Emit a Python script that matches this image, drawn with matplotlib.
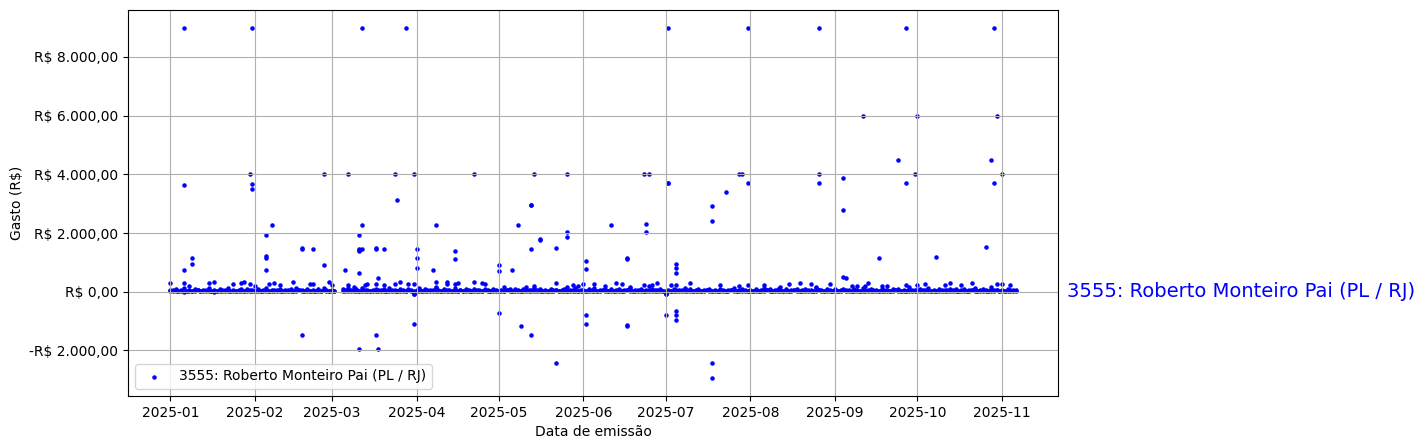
import numpy as np
import pandas as pd
import matplotlib
matplotlib.use("Agg")
import matplotlib.pyplot as plt
import matplotlib.ticker as mticker
import matplotlib.transforms as mtransforms

nan = np.nan
label = "3555: Roberto Monteiro Pai (PL / RJ)"

# Baseline daily expenses (one value per day of the month)
base_a = {
    1: [60, 30, 85, 15, 50, 120, 40, 70, 25, 95, 55, 10, 75, 45, 130, 35, 65, 20, 90, 50, 30, 110, 40, 70, 15, 60, 85, 25, 100, 45, 70],
    2: [40, 90, 25, 60, 120, 35, 75, 15, 55, 100, 30, 65, 45, 85, 20, 140, 50, 70, 30, 95, 40, 60, 15, 80, 35, 110, 55, 25],
    3: [70, 30, nan, nan, 85, 45, 110, 25, 60, 90, 35, 130, 50, 75, 20, 65, 100, 40, 55, 80, 30, 120, 45, 70, 25, 95, 60, 35, 85, 50, 20],
    4: [55, 80, 30, 100, 45, 70, 20, 125, 60, 35, 90, 50, 75, 25, 110, 40, 65, 15, 85, 55, 30, 100, 45, 70, 20, 95, 60, 35, 80, 50],
    5: [40, 75, 25, 60, 105, 35, 80, 50, 20, 90, 45, 70, 30, 115, 55, 85, 25, 65, 40, 100, 50, 75, 20, 60, 90, 35, 70, 45, 110, 30, 55],
    6: [65, 30, 90, 45, 120, 25, 70, 55, 100, 35, 80, 20, 60, 95, 40, 75, 50, 110, 30, 65, 45, 85, 25, 70, 55, 100, 35, 60, 90, 40],
    7: [-40, 75, 30, 95, 50, 65, 20, 110, 45, 80, 35, 60, 90, 25, 70, 50, 100, 40, 65, 15, 85, 55, 30, 75, 45, 120, 35, 60, 90, 50, 25],
    8: [70, 40, 95, 25, 60, 115, 45, 80, 30, 65, 100, 50, 20, 85, 40, 70, 55, 105, 30, 60, 90, 45, 75, 25, 110, 50, 65, 35, 95, 55, 40],
    9: [80, 30, 65, 100, 45, 70, 25, 90, 55, 40, 115, 60, 35, 85, 50, 75, 20, 95, 45, 65, 30, 105, 55, 80, 40, 70, 25, 90, 60, 45],
    10: [50, 85, 30, 70, 110, 40, 65, 20, 95, 55, 75, 35, 100, 45, 80, 25, 60, 90, 40, 70, 50, 115, 30, 65, 85, 45, 20, 95, 60, 75, 35],
    11: [60, 30, 85, 45, 70, 40],
}
base_b = {
    1: [20, 45, 10, 35, 25, 5, 40, 15, 30, 20, 45, 25, 10, 35, 20, 40, 5, 30, 15, 25, 45, 20, 35, 10, 30, 40, 15, 25, 20, 35, 10],
    2: [30, 15, 40, 20, 10, 35, 25, 45, 15, 30, 20, 40, 10, 25, 35, 15, 45, 20, 30, 10, 40, 25, 35, 15, 20, 45, 30, 10],
    3: [15, 40, nan, nan, 20, 30, 10, 45, 25, 15, 35, 20, 40, 10, 30, 25, 15, 45, 20, 35, 10, 30, 25, 40, 15, 20, 35, 10, 45, 25, -30],
    4: [30, 10, 40, 20, 35, 15, 45, 25, 10, 30, 20, 40, 15, 35, 25, 10, 45, 20, 30, 15, 40, 25, 10, 35, 20, 45, 30, 15, 25, 40],
    5: [20, 35, 10, 45, 25, 15, 40, 30, 10, 20, 35, 25, 45, 15, 30, 10, 40, 20, 35, 25, 15, 45, 30, 10, 20, 40, 25, 35, 15, 30, 10],
    6: [35, 15, 25, 40, 10, 30, 20, 45, 15, 35, 25, 10, 40, 20, 30, 15, 45, 25, 10, 35, 20, 40, 30, 15, 25, 10, 45, 20, 35, 25],
    7: [15, 40, 20, 10, 35, 25, 45, 15, 30, 20, 40, 10, 25, 35, 15, 45, 20, 30, 10, 40, 25, 35, 15, 20, 45, 30, 10, 25, 40, 20, 35],
    8: [25, 10, 40, 20, 35, 15, 45, 25, 10, 30, 20, 40, 15, 35, 25, 10, 45, 20, 30, 15, 40, 25, 10, 35, 20, 45, 30, 15, 25, 40, 10],
    9: [10, 35, 20, 45, 15, 30, 25, 10, 40, 20, 35, 15, 45, 25, 10, 30, 20, 40, 15, 35, 25, 10, 45, 20, 30, 15, 40, 25, 10, 35],
    10: [30, 15, 45, 20, 10, 35, 25, 40, 15, 30, 20, 45, 10, 25, 35, 15, 40, 20, 30, 10, 45, 25, 35, 15, 20, 40, 30, 10, 25, 45, 15],
    11: [20, 40, 15, 30, 25, 70],
}

# Points a little above the dense band
band_dates = ["2025-01-01", "2025-01-06", "2025-01-08", "2025-01-15", "2025-01-17", "2025-01-24",
              "2025-01-27", "2025-01-28", "2025-01-30", "2025-02-01", "2025-02-06", "2025-02-08",
              "2025-02-10", "2025-02-15", "2025-02-21", "2025-02-22", "2025-02-28", "2025-03-01",
              "2025-03-07", "2025-03-09", "2025-03-13", "2025-03-14", "2025-03-17", "2025-03-20",
              "2025-03-24", "2025-03-26", "2025-03-29", "2025-03-31", "2025-04-02", "2025-04-08",
              "2025-04-12", "2025-04-12", "2025-04-15", "2025-04-16", "2025-04-22", "2025-04-25",
              "2025-04-26", "2025-05-03", "2025-05-11", "2025-05-14", "2025-05-22", "2025-05-26",
              "2025-05-28", "2025-05-30", "2025-06-01", "2025-06-05", "2025-06-09", "2025-06-13",
              "2025-06-15", "2025-06-18", "2025-06-23", "2025-06-25", "2025-06-26", "2025-06-28",
              "2025-07-03", "2025-07-05", "2025-07-10", "2025-07-21", "2025-07-28", "2025-07-31",
              "2025-08-06", "2025-08-12", "2025-08-15", "2025-08-19", "2025-08-23", "2025-08-25",
              "2025-08-30", "2025-09-07", "2025-09-09", "2025-09-12", "2025-09-13", "2025-09-18",
              "2025-09-20", "2025-09-27", "2025-09-28", "2025-10-01", "2025-10-04", "2025-10-11",
              "2025-10-13", "2025-10-17", "2025-10-21", "2025-10-28", "2025-10-30", "2025-11-01",
              "2025-11-04", "2025-03-31", "2025-07-01", "2025-04-08"]
band_values = [300, 300, 200, 300, 330, 250,
               300, 330, 250, 180, 250, 300,
               230, 330, 250, 250, 330, 230,
               230, 170, 230, 250, 250, 230,
               250, 330, 250, 250, 110, 150,
               250, 330, 250, 300, 330, 300,
               250, 150, 170, 200, 300, 150,
               230, 200, 250, 250, 200, 300,
               250, 170, 230, 200, 240, 310,
               230, 230, 300, 230, 200, 230,
               230, 170, 250, 300, 250, 150,
               250, 200, 200, 200, 300, 200,
               200, 240, 150, 240, 250, 230,
               300, 230, 300, 150, 250, 250,
               230, -80, -80, 330]

# Large expenses / refunds
big_dates = ["2025-01-06", "2025-01-31", "2025-03-12", "2025-03-28", "2025-07-02", "2025-07-31",
             "2025-08-26", "2025-09-27", "2025-10-29",
             "2025-09-11", "2025-10-01", "2025-10-30",
             "2025-01-30", "2025-02-26", "2025-03-07", "2025-03-24", "2025-03-31", "2025-04-22",
             "2025-05-14", "2025-05-26", "2025-06-23", "2025-06-25", "2025-07-28", "2025-07-29",
             "2025-08-26", "2025-09-30", "2025-11-01",
             "2025-09-24", "2025-10-28", "2025-09-04",
             "2025-01-06", "2025-01-31", "2025-01-31", "2025-07-02", "2025-07-02", "2025-07-31",
             "2025-08-26", "2025-09-27", "2025-10-29", "2025-07-23", "2025-03-25",
             "2025-07-18", "2025-05-13", "2025-05-13", "2025-09-04", "2025-07-18",
             "2025-02-07", "2025-03-12", "2025-04-08", "2025-05-08", "2025-06-11", "2025-06-24",
             "2025-06-24", "2025-05-26", "2025-05-26", "2025-02-05", "2025-03-11", "2025-05-16",
             "2025-05-16", "2025-10-26",
             "2025-02-18", "2025-02-18", "2025-02-22", "2025-03-11", "2025-03-11", "2025-03-11",
             "2025-03-12", "2025-03-17", "2025-03-17", "2025-03-20", "2025-04-01", "2025-05-13",
             "2025-05-22", "2025-04-15",
             "2025-02-05", "2025-02-05", "2025-01-09", "2025-01-09", "2025-04-01", "2025-04-15",
             "2025-06-17", "2025-06-17", "2025-09-17", "2025-10-08", "2025-06-02",
             "2025-07-05", "2025-07-05", "2025-07-05", "2025-02-26", "2025-05-01", "2025-05-01",
             "2025-04-01", "2025-06-02", "2025-01-06", "2025-02-05", "2025-03-06", "2025-04-07",
             "2025-05-06", "2025-03-11", "2025-09-04", "2025-09-05", "2025-03-18",
             "2025-03-31", "2025-07-01", "2025-05-01", "2025-06-02", "2025-06-02", "2025-07-01",
             "2025-07-05", "2025-07-05", "2025-07-05", "2025-03-31", "2025-05-09", "2025-06-17",
             "2025-06-17", "2025-02-18", "2025-03-17", "2025-05-13", "2025-03-11", "2025-03-18",
             "2025-05-22", "2025-07-18", "2025-07-18"]
big_values = [9000, 9000, 9000, 9000, 9000, 9000,
              9000, 9000, 9000,
              6000, 6000, 6000,
              4000, 4000, 4000, 4000, 4000, 4000,
              4000, 4000, 4000, 4000, 4000, 4000,
              4000, 4000, 4000,
              4500, 4500, 3860,
              3650, 3660, 3515, 3690, 3710, 3690,
              3690, 3690, 3690, 3410, 3140,
              2935, 2970, 2950, 2800, 2420,
              2280, 2280, 2280, 2280, 2280, 2320,
              2040, 2030, 1860, 1940, 1940, 1770,
              1790, 1530,
              1470, 1490, 1470, 1470, 1430, 1400,
              1470, 1470, 1490, 1470, 1470, 1460,
              1500, 1390,
              1200, 1140, 1165, 950, 1165, 1120,
              1150, 1130, 1155, 1190, 1040,
              960, 810, 640, 920, 920, 710,
              820, 775, 750, 750, 750, 750,
              740, 640, 515, 480, 470,
              -90, -90, -730, -800, -1085, -800,
              -650, -800, -970, -1100, -1175, -1150,
              -1160, -1475, -1475, -1485, -1950, -1950,
              -2440, -2440, -2955]

# ---- assemble ----
dates = []
values = []
for month in range(1, 12):
    for base in (base_a, base_b):
        for i, v in enumerate(base[month]):
            dates.append(pd.Timestamp(2025, month, i + 1))
            values.append(v)
dates += list(pd.to_datetime(band_dates))
values += band_values
dates += list(pd.to_datetime(big_dates))
values += big_values

df = pd.DataFrame({"date": dates, "value": values}).dropna()

fig = plt.figure(figsize=(14.24, 4.48), dpi=100)
ax = fig.add_axes([0.0899, 0.1161, 0.6531, 0.8616])

ax.scatter(df["date"], df["value"], s=5, color="blue", label=label)

def brl(x, pos):
    s = f"{abs(x):,.2f}".replace(",", "X").replace(".", ",").replace("X", ".")
    return ("-R$ " if x < 0 else "R$ ") + s

ax.yaxis.set_major_formatter(mticker.FuncFormatter(brl))
ax.grid(True)
ax.set_xlabel("Data de emissão")
ax.set_ylabel("Gasto (R$)")
ax.legend(loc="lower left")

trans = mtransforms.blended_transform_factory(ax.transAxes, ax.transData)
ax.annotate(label, xy=(1.0, 0), xycoords=trans, xytext=(6.5, 0),
            textcoords="offset points", color="blue", fontsize=14,
            va="center", ha="left", annotation_clip=False)

fig.savefig("out.png", dpi=100)
